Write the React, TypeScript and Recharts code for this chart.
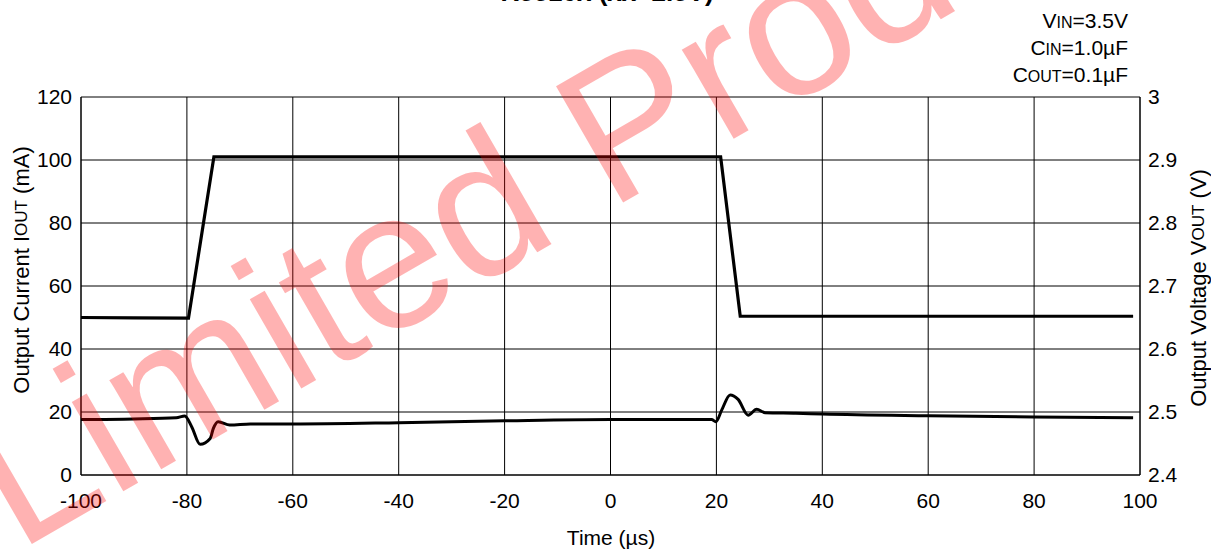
import React from 'react';
import { LineChart, Line, XAxis, YAxis, CartesianGrid } from 'recharts';

// Output current IOUT (mA), left axis
const currentTime = [-100, -90, -79.7, -74.9, 20.8, 24.5, 98.7];
const currentValues = [50, 49.9, 49.8, 101, 101, 50.4, 50.4];

// Output voltage VOUT (V), right axis
const voltageTime = [-100, -90, -82, -80.4, -79.1, -77.5, -75.6, -75, -74.1, -71.9, -68, -60, -40, -20, 0, 13, 19.1, 19.9, 21, 22.6, 24.1, 26, 27.6, 29.2, 35, 40, 60, 80, 98.7];
const voltageValues = [2.488, 2.489, 2.491, 2.4937, 2.4767, 2.4487, 2.458, 2.474, 2.4847, 2.4794, 2.481, 2.481, 2.483, 2.486, 2.488, 2.488, 2.488, 2.4846, 2.503, 2.527, 2.52, 2.495, 2.5043, 2.4989, 2.498, 2.4968, 2.494, 2.492, 2.491];

const timeTicks = [-100, -80, -60, -40, -20, 0, 20, 40, 60, 80, 100];
const currentTicks = [0, 20, 40, 60, 80, 100, 120];
const voltageTicks = [2.4, 2.5, 2.6, 2.7, 2.8, 2.9, 3];

const currentData = currentTime.map((t, i) => ({ t, iout: currentValues[i] }));
const voltageData = voltageTime.map((t, i) => ({ t, vout: voltageValues[i] }));

const FONT = '"Liberation Sans", Arial, sans-serif';
const tickStyle = { fontSize: 21, fill: '#000', fontFamily: FONT };

const App: React.FC = () => {
  return (
    <div style={{ position: 'absolute', left: 0, top: 0, width: 1211, height: 554, background: '#fff' }}>
      <LineChart width={1211} height={554} margin={{ top: 97, right: 0, bottom: 0, left: 0 }}>
        <CartesianGrid yAxisId="left" stroke="#000" strokeWidth={1} />
        <XAxis
          dataKey="t"
          type="number"
          domain={[-100, 100]}
          ticks={timeTicks}
          allowDataOverflow
          height={79}
          axisLine={{ stroke: '#000' }}
          tickLine={false}
          tickSize={0}
          tickMargin={18}
          tick={tickStyle}
        />
        <YAxis
          yAxisId="left"
          type="number"
          domain={[0, 120]}
          ticks={currentTicks}
          width={81}
          axisLine={{ stroke: '#000' }}
          tickLine={false}
          tickSize={0}
          tickMargin={9}
          tick={tickStyle}
        />
        <YAxis
          yAxisId="right"
          orientation="right"
          type="number"
          domain={[2.4, 3]}
          ticks={voltageTicks}
          width={71}
          axisLine={{ stroke: '#000' }}
          tickLine={false}
          tickSize={0}
          tickMargin={8}
          tick={tickStyle}
          tickFormatter={(v: number) => String(Math.round(v * 10) / 10)}
        />
        <Line
          yAxisId="left"
          data={currentData}
          dataKey="iout"
          type="linear"
          stroke="#000"
          strokeWidth={3.2}
          dot={false}
          isAnimationActive={false}
        />
        <Line
          yAxisId="right"
          data={voltageData}
          dataKey="vout"
          type="monotone"
          stroke="#000"
          strokeWidth={3}
          dot={false}
          isAnimationActive={false}
        />
      </LineChart>

      <svg
        width={1211}
        height={554}
        style={{ position: 'absolute', left: 0, top: 0, pointerEvents: 'none', overflow: 'hidden' }}
        fontFamily={FONT}
      >
        <text x={607} y={1} textAnchor="middle" fontSize={26} fontWeight="bold" fill="#000">
          R5510x (xx=2.5V)
        </text>

        <text x={1128} y={28} textAnchor="end" fontSize={21} fill="#000">
          V<tspan fontSize={16}>IN</tspan>=3.5V
        </text>
        <text x={1128} y={55} textAnchor="end" fontSize={21} fill="#000">
          C<tspan fontSize={16}>IN</tspan>=1.0µF
        </text>
        <text x={1128} y={82} textAnchor="end" fontSize={21} fill="#000">
          C<tspan fontSize={16}>OUT</tspan>=0.1µF
        </text>

        <text
          x={21}
          y={270}
          transform="rotate(-90 21 270)"
          textAnchor="middle"
          dominantBaseline="central"
          fontSize={22}
          fill="#000"
        >
          Output Current I<tspan fontSize={17}>OUT</tspan> (mA)
        </text>
        <text
          x={1198}
          y={288}
          transform="rotate(-90 1198 288)"
          textAnchor="middle"
          dominantBaseline="central"
          fontSize={22}
          fill="#000"
        >
          Output Voltage V<tspan fontSize={17}>OUT</tspan> (V)
        </text>
        <text x={611} y={545} textAnchor="middle" fontSize={21} fill="#000">
          Time (µs)
        </text>

        <text
          x={18}
          y={552}
          transform="rotate(-30 18 552)"
          fontSize={195}
          fill="#ff0000"
          fillOpacity={0.3}
        >
          Limited Product
        </text>
      </svg>
    </div>
  );
};

export default App;
